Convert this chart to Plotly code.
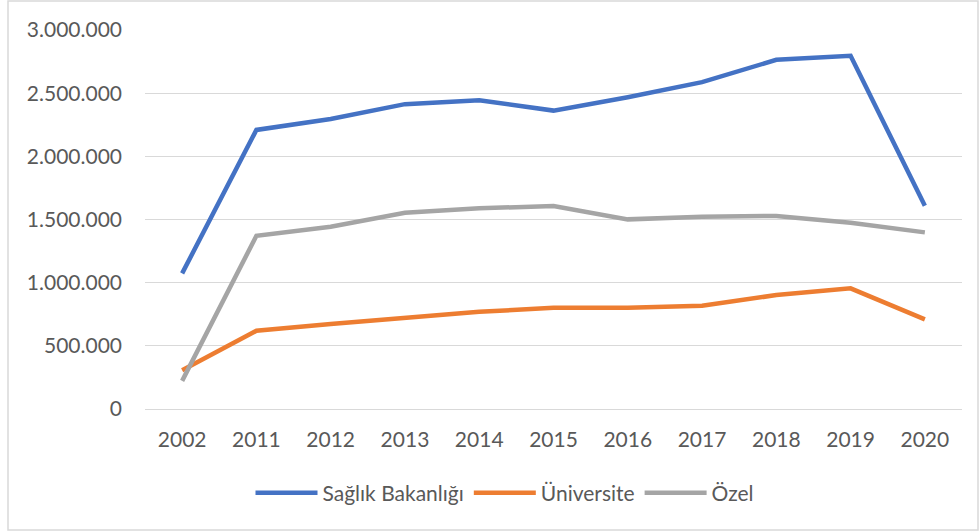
import plotly.graph_objects as go

# Years on the category axis
years = ["2002", "2011", "2012", "2013", "2014", "2015", "2016", "2017", "2018", "2019", "2020"]

# Values per hospital ownership type
saglik_bakanligi = [1073700, 2209000, 2296000, 2413000, 2444000, 2362000, 2468000, 2587000, 2764000, 2796000, 1609000]
universite = [307000, 619000, 672000, 719000, 769000, 801000, 801000, 817000, 902000, 955000, 709000]
ozel = [222700, 1371000, 1443000, 1554000, 1589000, 1606000, 1501000, 1522000, 1528000, 1475000, 1398000]

series_names = ["Sağlık Bakanlığı", "Üniversite", "Özel"]
series_colors = ["#4472C4", "#ED7D31", "#A5A5A5"]

W, H = 979, 532
L, R, T, B = 145, 17, 30, 123
pw, ph = W - L - R, H - T - B

fig = go.Figure()
for name, vals, col in zip(series_names, [saglik_bakanligi, universite, ozel], series_colors):
    fig.add_trace(go.Scatter(
        x=years, y=vals, name=name, mode="lines",
        line=dict(color=col, width=4.5),
    ))

font_family = "Lato, 'Open Sans', sans-serif"
text_color = "#595959"
fsize = 21

# Outer chart frame
fig.add_shape(
    type="rect", xref="paper", yref="paper",
    x0=(8 - L) / pw, x1=(978 - L) / pw,
    y0=-(530 - (H - B)) / ph, y1=((H - B) - 1) / ph,
    line=dict(color="#D9D9D9", width=1.5), fillcolor="rgba(0,0,0,0)", layer="below",
)

fig.update_layout(
    width=W, height=H,
    margin=dict(l=L, r=R, t=T, b=B),
    paper_bgcolor="white", plot_bgcolor="white",
    separators=",.",
    font=dict(family=font_family, size=fsize, color=text_color),
    showlegend=True,
    legend=dict(
        orientation="h", x=(505 - L) / pw, xanchor="center",
        y=-(493 - (H - B)) / ph, yanchor="middle",
        font=dict(family=font_family, size=fsize, color=text_color),
        itemwidth=62, traceorder="normal",
        bgcolor="rgba(0,0,0,0)",
    ),
    xaxis=dict(
        type="category", range=[-0.5, 10.5],
        showgrid=False, showline=True, linecolor="#D9D9D9", linewidth=1.3,
        ticks="", ticklabelstandoff=12,
        tickfont=dict(family=font_family, size=fsize, color=text_color),
    ),
    yaxis=dict(
        range=[0, 3000000], dtick=500000, tick0=0,
        tickformat=",d",
        showgrid=True, gridcolor="#D9D9D9", gridwidth=1.3,
        zeroline=False, showline=False,
        ticks="", ticklabelstandoff=22,
        tickfont=dict(family=font_family, size=fsize, color=text_color),
    ),
)

fig.write_html("out.html")
